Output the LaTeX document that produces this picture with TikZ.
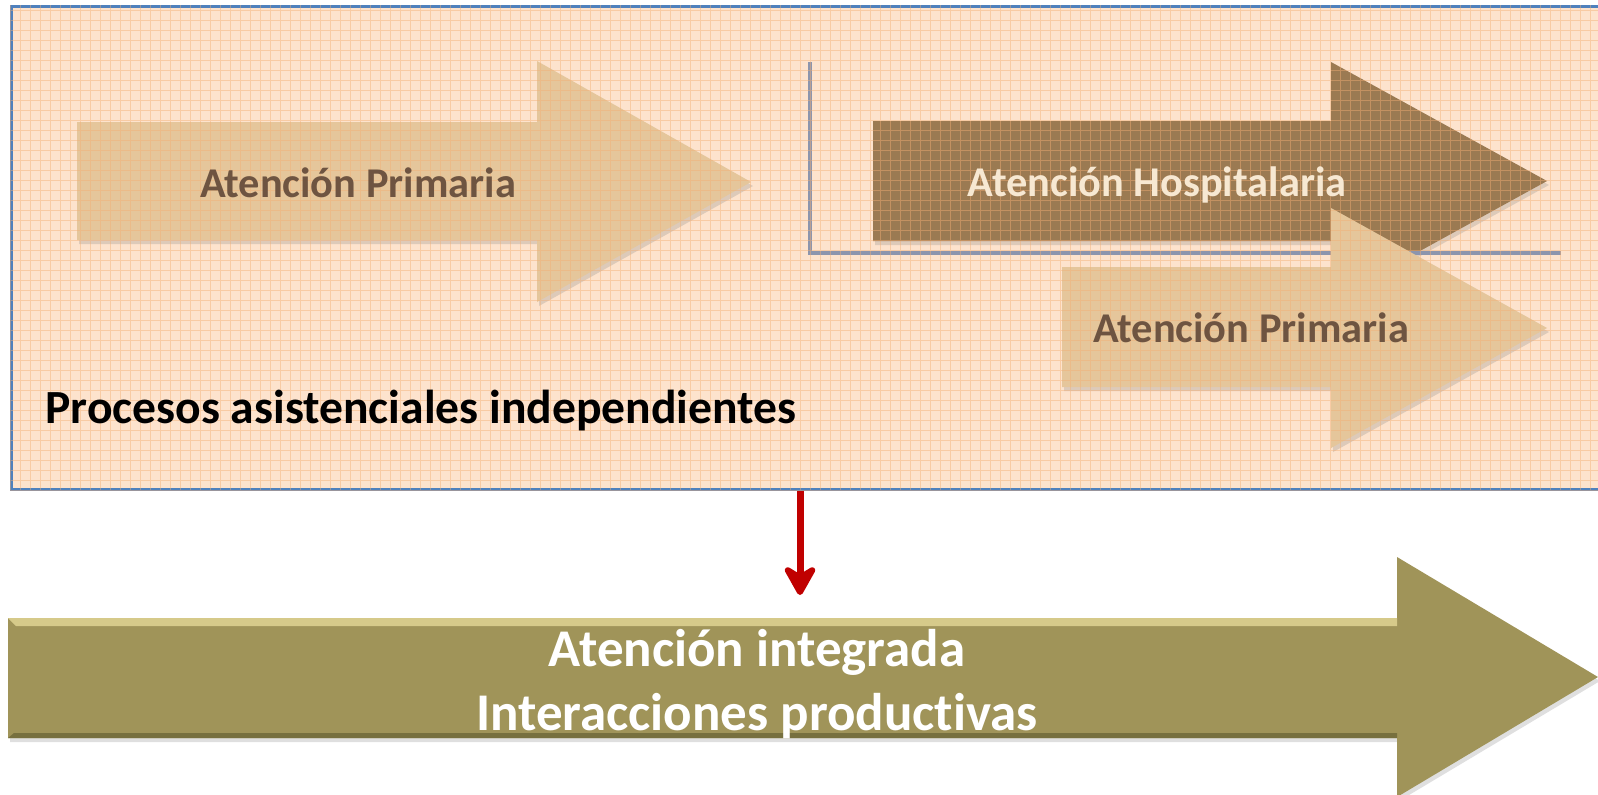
\documentclass[tikz,border=0pt]{standalone}
\usepackage{fontspec}
\setmainfont{Carlito}[Ligatures=NoCommon]
\usetikzlibrary{arrows.meta,shadows}

\definecolor{fondo}{HTML}{FDE3CD}
\definecolor{cuadro}{HTML}{F4AE74}
\definecolor{borde}{HTML}{4F81BD}
\definecolor{claro}{HTML}{E5C69B}
\definecolor{oscuro}{HTML}{9B7A52}
\definecolor{letraClara}{HTML}{6E5441}
\definecolor{letraOscura}{HTML}{F7E8D2}
\definecolor{eje}{HTML}{8C95AD}
\definecolor{oliva}{HTML}{A09459}
\definecolor{olivaClaro}{HTML}{D6CA8A}
\definecolor{olivaOscuro}{HTML}{77703F}
\definecolor{rojo}{HTML}{C00000}

\tikzset{
	marco/.style={draw=borde, line width=1.4pt, fill=fondo, inner sep=0pt},
	cuadricula/.style={draw=cuadro, line width=0.4pt, opacity=0.45, step=5pt},
	sombra/.style={drop shadow={opacity=0.25, shadow xshift=1pt, shadow yshift=-2pt}},
	flechaClara/.style={fill=claro, sombra},
	flechaOscura/.style={fill=oscuro, sombra},
	flechaOliva/.style={fill=oliva, sombra},
	eje/.style={draw=eje, line width=2.4pt},
	rotulo/.style={font=\bfseries\fontsize{21.2}{25}\selectfont, inner sep=0pt},
	flechaRoja/.style={draw=rojo, line width=3.5pt, -{Stealth[length=18pt, width=20pt, inset=6pt, round]}}
}

\begin{document}
\begin{tikzpicture}[x=0.5pt, y=-0.5pt]
	\useasboundingbox (0,0) rectangle (1598,794);
	\node[marco, anchor=north west, minimum width=797.5pt, minimum height=241.5pt] (marco) at (10,5) {};

	% flechas de arriba
	\fill[flechaClara] (77,122) -- (537,122) -- (537,61) -- (751,182) -- (537,302) -- (537,240) -- (77,240) -- cycle;
	\fill[flechaOscura] (873,121) -- (1331,121) -- (1331,62) -- (1547,181) -- (1331,300) -- (1331,241) -- (873,241) -- cycle;
	\draw[eje] (810,62) -- (810,253) -- (1561,253);
	\fill[flechaClara] (1062,267) -- (1331,267) -- (1331,208) -- (1547,328) -- (1331,448) -- (1331,387) -- (1062,387) -- cycle;

	\begin{scope}
		\clip (marco.south west) rectangle (marco.north east);
		\draw[cuadricula] (0,0) grid (1600,500);
	\end{scope}

	\node[rotulo, text=letraClara, anchor=base] (primaria1) at (358,197) {Atención Primaria};
	\node[rotulo, text=letraOscura, anchor=base] (hospital) at (1157,196) {Atención Hospitalaria};
	\node[rotulo, text=letraClara, anchor=base] (primaria2) at (1251,342) {Atención Primaria};
	\node[rotulo, font=\bfseries\fontsize{23.8}{28}\selectfont, anchor=base west] (procesos) at (45,423) {Procesos asistenciales independientes};

	% flecha de abajo
	\fill[flechaOliva] (8,618) -- (1397,618) -- (1397,557) -- (1598,677) -- (1397,797) -- (1397,738) -- (8,738) -- cycle;
	\fill[olivaClaro] (8,618) -- (1397,618) -- (1397,626) -- (16,626) -- cycle;
	\fill[olivaOscuro] (8,738) -- (1397,738) -- (1397,733) -- (14,733) -- cycle;
	\node[rotulo, font=\bfseries\fontsize{26.5}{32}\selectfont, text=white, align=center] (integrada) at (757,684) {Atención integrada\\Interacciones productivas};

	\coordinate (punta) at (800,595);
	\draw[flechaRoja] (marco.south -| punta) -- (punta);
\end{tikzpicture}
\end{document}
